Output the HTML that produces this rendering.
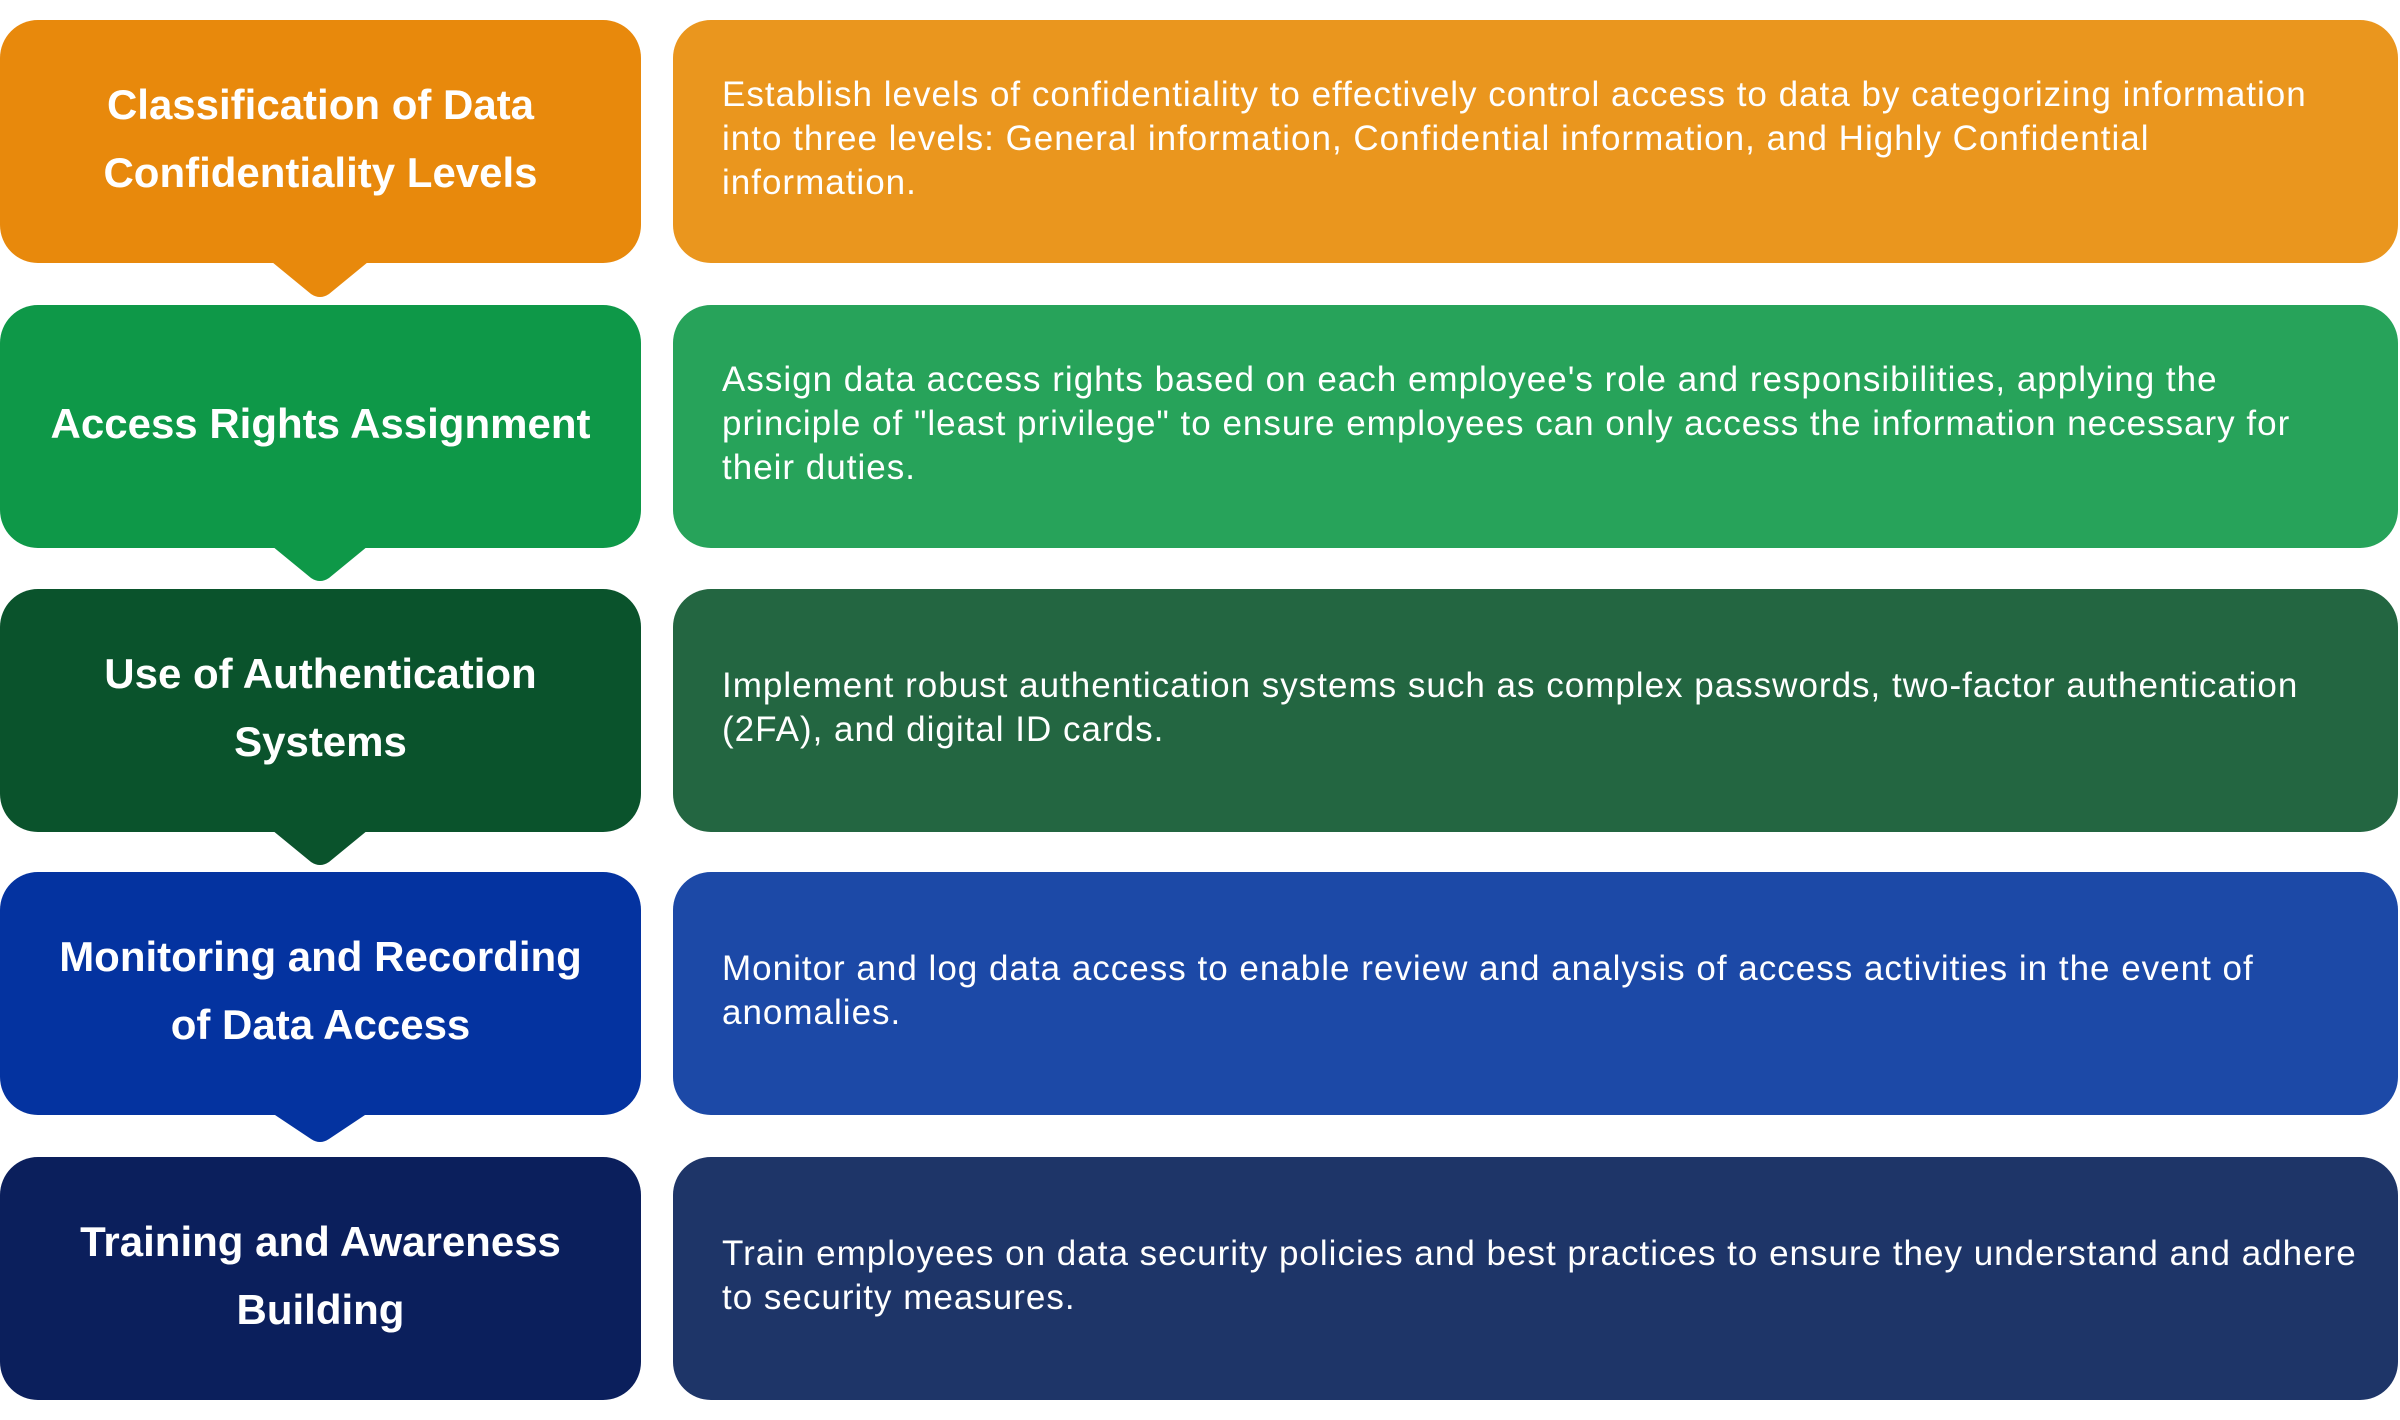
<!DOCTYPE html>
<html><head><meta charset="utf-8"><style>
html,body{margin:0;padding:0;background:#fff;}
body{width:2400px;height:1420px;position:relative;overflow:hidden;font-family:"Liberation Sans",sans-serif;color:#fff;}
.l,.r{position:absolute;height:243px;border-radius:38px;display:flex;align-items:center;}
.l{left:0;width:641px;justify-content:center;text-align:center;font-weight:bold;font-size:42px;line-height:68px;box-sizing:border-box;padding-bottom:6px;}
.r{left:673px;width:1725px;box-sizing:border-box;padding-left:49px;padding-bottom:5px;font-size:35px;line-height:44px;white-space:nowrap;letter-spacing:1.0px;}
svg{position:absolute;left:0;top:0;}
</style></head><body>
<svg width="2400" height="1420">
<path d="M272 262 L368 262 L329 294 Q320 300 311 294 Z" fill="#E8890C"/>
<path d="M272 546 L368 546 L329 578 Q320 584 311 578 Z" fill="#0E9848"/>
<path d="M272 830 L368 830 L329 862 Q320 868 311 862 Z" fill="#0A532C"/>
<path d="M272 1113 L368 1113 L329 1139 Q320 1145 311 1139 Z" fill="#0433A0"/>
</svg>
<div class="l" style="top:20px;background:#E8890C">Classification of Data<br>Confidentiality Levels</div>
<div class="r" style="top:20px;background:#EA961E">Establish levels of confidentiality to effectively control access to data by categorizing information<br>into three levels: General information, Confidential information, and Highly Confidential<br>information.</div>
<div class="l" style="top:305px;background:#0E9848">Access Rights Assignment</div>
<div class="r" style="top:305px;background:#27A35A">Assign data access rights based on each employee's role and responsibilities, applying the<br>principle of "least privilege" to ensure employees can only access the information necessary for<br>their duties.</div>
<div class="l" style="top:589px;background:#0A532C">Use of Authentication<br>Systems</div>
<div class="r" style="top:589px;background:#236641">Implement robust authentication systems such as complex passwords, two-factor authentication<br>(2FA), and digital ID cards.</div>
<div class="l" style="top:872px;background:#0433A0">Monitoring and Recording<br>of Data Access</div>
<div class="r" style="top:872px;background:#1C49A7">Monitor and log data access to enable review and analysis of access activities in the event of<br>anomalies.</div>
<div class="l" style="top:1157px;background:#0B1F5C">Training and Awareness<br>Building</div>
<div class="r" style="top:1157px;background:#1E3568">Train employees on data security policies and best practices to ensure they understand and adhere<br>to security measures.</div>
</body></html>
